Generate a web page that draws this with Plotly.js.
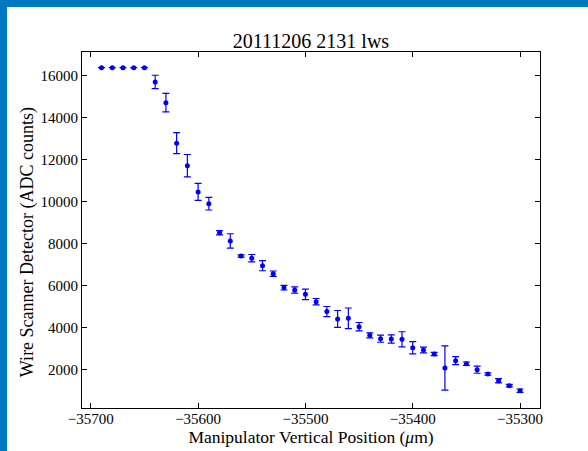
<!DOCTYPE html>
<html>
<head>
<meta charset="utf-8">
<script src="https://cdn.plot.ly/plotly-3.0.1.min.js"></script>
<style>
html,body{margin:0;padding:0;background:#0079c1;width:588px;height:451px;overflow:hidden;}
#plot{position:absolute;left:7px;top:7px;width:581px;height:444px;background:#fff;}
</style>
</head>
<body>
<div id="plot"></div>
<script>
var positions = [-35690,-35680,-35670,-35660,-35650,-35640,-35630,-35620,-35610,-35600,
  -35590,-35580,-35570,-35560,-35550,-35540,-35530,-35520,-35510,-35500,
  -35490,-35480,-35470,-35460,-35450,-35440,-35430,-35420,-35410,-35400,
  -35390,-35380,-35370,-35360,-35350,-35340,-35330,-35320,-35310,-35300];
var counts = [16383,16383,16383,16383,16383,15700,14716,12790,11720,10470,
  9910,8530,8140,7423,7320,6960,6580,5915,5806,5600,
  5250,4780,4430,4460,4060,3650,3490,3475,3460,3060,
  2952,2761,2095,2443,2300,2014,1810,1491,1253,1015];
var errors = [0,0,0,0,0,320,440,500,530,405,
  300,100,340,50,175,240,130,110,150,250,
  150,240,400,490,200,120,170,200,360,290,
  140,80,1050,190,80,170,60,100,60,80];
var xTicks = [-35700,-35600,-35500,-35400,-35300];
var xTickText = ['\u221235700','\u221235600','\u221235500','\u221235400','\u221235300'];
var yTicks = [2000,4000,6000,8000,10000,12000,14000,16000];
var yTickText = ['2000','4000','6000','8000','10000','12000','14000','16000'];

var serif = "Liberation Serif, DejaVu Serif, serif";
var trace = {
  x: positions, y: counts, type: 'scatter', mode: 'markers',
  marker: {color: '#0000ff', size: 5},
  error_y: {type: 'data', array: errors, visible: true, color: '#0000ff', thickness: 1.2, width: 3.5}
};
var layout = {
  width: 581, height: 444,
  margin: {l: 75, r: 48, t: 45, b: 43},
  paper_bgcolor: '#ffffff', plot_bgcolor: '#ffffff',
  showlegend: false,
  font: {family: serif, color: '#000', size: 15},
  title: {text: '20111206 2131 lws', font: {family: serif, size: 20, color: '#000'}, x: 0.5, xref: 'paper', xanchor: 'center', y: 1, yref: 'paper', yanchor: 'bottom', pad: {b: 4}},
  xaxis: {
    range: [-35708.2, -35281.4], tickvals: xTicks, ticktext: xTickText,
    ticks: 'inside', ticklen: 5, tickcolor: '#000', mirror: 'ticks', showline: true, linecolor: '#000', linewidth: 1,
    showgrid: false, zeroline: false, tickfont: {family: serif, size: 15}, ticklabelstandoff: -3,
    title: {text: 'Manipulator Vertical Position (<i>\u03bc</i>m)', font: {family: serif, size: 17.5}, standoff: 1}
  },
  yaxis: {
    range: [192, 17127], tickvals: yTicks, ticktext: yTickText,
    ticks: 'inside', ticklen: 5, tickcolor: '#000', mirror: 'ticks', showline: true, linecolor: '#000', linewidth: 1,
    showgrid: false, zeroline: false, tickfont: {family: serif, size: 15}
  },
  annotations: [{
    text: 'Wire Scanner Detector (ADC counts)', textangle: -90, showarrow: false,
    xref: 'paper', yref: 'paper', x: -0.12, y: 0.466, xanchor: 'center', yanchor: 'middle',
    font: {family: serif, size: 18, color: '#000'}
  }]
};
Plotly.newPlot('plot', [trace], layout, {displayModeBar: false, staticPlot: true});
</script>
</body>
</html>
